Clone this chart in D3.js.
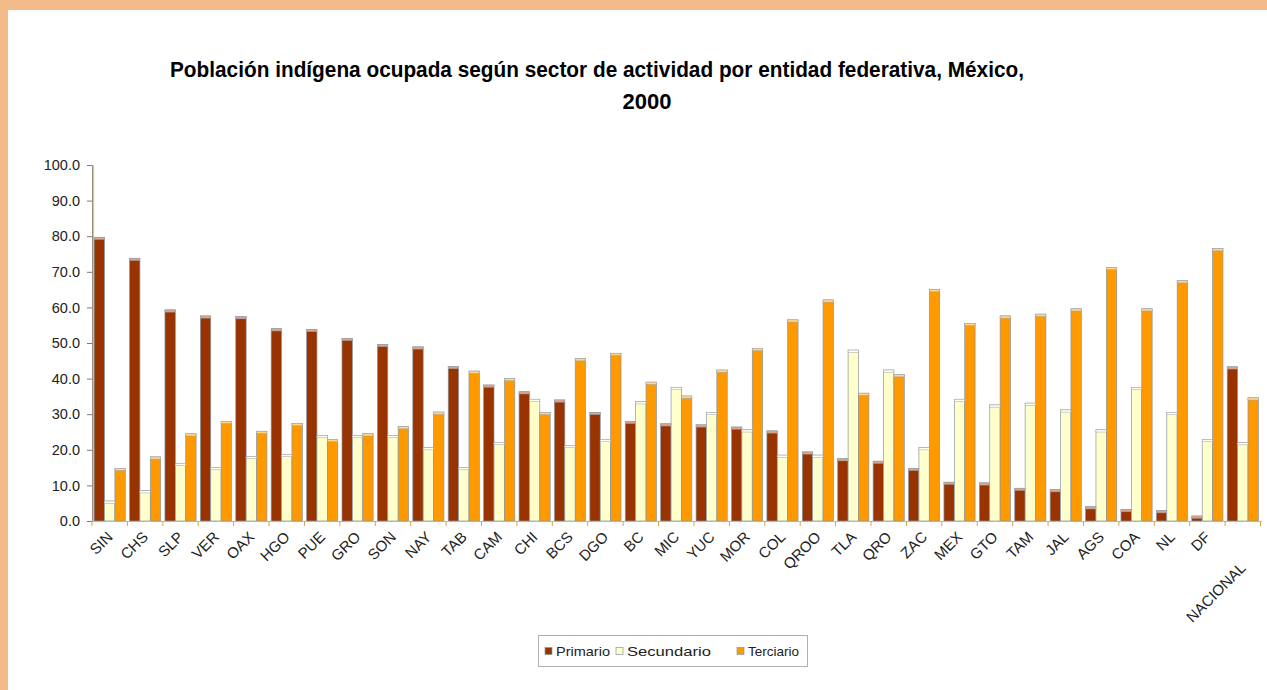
<!DOCTYPE html>
<html>
<head>
<meta charset="utf-8">
<script src="https://cdn.jsdelivr.net/npm/d3@7/dist/d3.min.js"></script>
<style>
  html, body { margin: 0; padding: 0; background: #ffffff; }
  svg { display: block; }
</style>
</head>
<body>
<script>
// Entidades federativas (orden de la gráfica)
const categories = ["SIN","CHS","SLP","VER","OAX","HGO","PUE","GRO","SON","NAY","TAB","CAM","CHI","BCS","DGO","BC","MIC","YUC","MOR","COL","QROO","TLA","QRO","ZAC","MEX","GTO","TAM","JAL","AGS","COA","NL","DF","NACIONAL"];

// Porcentaje de la población indígena ocupada por sector
const primario   = [79.7,73.8,59.3,57.6,57.4,54.0,53.8,51.3,49.6,48.9,43.4,38.2,36.3,34.0,30.5,28.0,27.3,27.0,26.4,25.3,19.4,17.5,16.8,14.8,10.9,10.7,9.2,8.8,4.0,3.2,2.9,1.4,43.3];
const secundario = [5.6,8.5,16.2,15.0,18.1,18.7,24.0,24.0,24.0,20.6,15.0,22.1,34.2,21.2,22.9,33.5,37.5,30.5,25.6,18.5,18.5,48.0,42.4,20.6,34.2,32.6,33.1,31.2,25.6,37.5,30.5,22.9,22.0];
const terciario  = [14.8,18.0,24.5,28.0,25.2,27.4,22.9,24.5,26.5,30.6,42.1,40.0,30.5,45.6,47.1,39.0,35.1,42.4,48.5,56.5,62.1,35.9,41.1,65.0,55.5,57.6,58.1,59.6,71.2,59.6,67.5,76.5,34.6];

const seriesNames = ["Primario","Secundario","Terciario"];
const yTicks = [0,10,20,30,40,50,60,70,80,90,100];

const titleLine1 = "Población indígena ocupada según sector de actividad por entidad federativa, México,";
const titleLine2 = "2000";

const W = 1267, H = 690;
const fills = { Primario: "#993300", Secundario: "#ffffcc", Terciario: "#ff9900" };
const caps  = { Primario: "#d9a48e", Secundario: "#fffff2", Terciario: "#ffd88c" };

const table = categories.map((c, i) => ({
  cat: c,
  values: [
    { key: "Primario",   v: primario[i] },
    { key: "Secundario", v: secundario[i] },
    { key: "Terciario",  v: terciario[i] }
  ]
}));

const svg = d3.select("body").append("svg")
  .attr("width", W).attr("height", H);

// Marco exterior
svg.append("rect").attr("x", 0).attr("y", 0).attr("width", W).attr("height", H).attr("fill", "#ffffff");
svg.append("rect").attr("x", 0).attr("y", 0).attr("width", W).attr("height", 10).attr("fill", "#f4bb8a");
svg.append("rect").attr("x", 0).attr("y", 0).attr("width", 8).attr("height", H).attr("fill", "#f4bb8a");

// Título (tipografía condensada)
const titleFont = "Liberation Sans, Arial, sans-serif";
svg.append("text")
  .attr("x", 597).attr("y", 77)
  .attr("text-anchor", "middle")
  .attr("font-family", titleFont)
  .attr("font-weight", "bold")
  .attr("font-size", 22.5)
  .attr("textLength", 854)
  .attr("lengthAdjust", "spacingAndGlyphs")
  .attr("fill", "#000")
  .text(titleLine1);
svg.append("text")
  .attr("x", 647).attr("y", 109)
  .attr("text-anchor", "middle")
  .attr("font-family", titleFont)
  .attr("font-weight", "bold")
  .attr("font-size", 22.5)
  .attr("textLength", 49)
  .attr("lengthAdjust", "spacingAndGlyphs")
  .attr("fill", "#000")
  .text(titleLine2);

// Escalas
const plotLeft = 92, plotRight = 1260.5, plotTop = 165, plotBottom = 521;
const x0 = d3.scaleBand().domain(categories).range([plotLeft, plotRight]).padding(0);
const bw = x0.bandwidth();
const x1 = d3.scaleBand().domain(seriesNames).range([bw * 0.06, bw * 0.94]).padding(0);
const y = d3.scaleLinear().domain([0, 100]).range([plotBottom, plotTop]);

// Eje Y
const yAxis = d3.axisLeft(y).tickValues(yTicks).tickSize(5).tickPadding(7).tickFormat(d3.format(".1f"));
const gy = svg.append("g").attr("transform", `translate(${plotLeft},0)`).call(yAxis);
gy.select(".domain").attr("stroke", "#8c8c8c").attr("stroke-width", 1);
gy.selectAll(".tick line").attr("stroke", "#7a7a7a");
gy.selectAll(".tick text")
  .attr("font-family", "Liberation Sans, Arial, sans-serif")
  .attr("font-size", 14.5)
  .attr("fill", "#222");

// Cara lateral del plano de fondo
svg.append("line")
  .attr("x1", plotLeft + 1.5).attr("x2", plotLeft + 1.5)
  .attr("y1", y(100)).attr("y2", y(0))
  .attr("stroke", "#f5c842").attr("stroke-width", 1.2);

// Columnas
const groups = svg.append("g").selectAll("g.grp")
  .data(table).join("g")
  .attr("class", "grp")
  .attr("transform", d => `translate(${x0(d.cat)},0)`);

groups.selectAll("rect.bar")
  .data(d => d.values).join("rect")
  .attr("class", "bar")
  .attr("x", d => x1(d.key))
  .attr("y", d => y(d.v))
  .attr("width", x1.bandwidth())
  .attr("height", d => y(0) - y(d.v))
  .attr("fill", d => fills[d.key])
  .attr("stroke", "#8a96a2")
  .attr("stroke-width", 0.7);

// Tapa superior clara de cada columna
groups.selectAll("rect.cap")
  .data(d => d.values).join("rect")
  .attr("class", "cap")
  .attr("x", d => x1(d.key))
  .attr("y", d => y(d.v))
  .attr("width", x1.bandwidth())
  .attr("height", d => Math.min(2.2, y(0) - y(d.v)))
  .attr("fill", d => caps[d.key])
  .attr("stroke", "#9aa3ad")
  .attr("stroke-width", 0.5);

// Eje X
svg.append("line")
  .attr("x1", plotLeft).attr("x2", plotRight + 1)
  .attr("y1", plotBottom + 0.5).attr("y2", plotBottom + 0.5)
  .attr("stroke", "#9fbcd8").attr("stroke-width", 1.2);

const boundaries = categories.map(c => x0(c)).concat([x0(categories[categories.length - 1]) + bw]);
svg.append("g").selectAll("line")
  .data(boundaries).join("line")
  .attr("x1", d => d).attr("x2", d => d)
  .attr("y1", plotBottom).attr("y2", plotBottom + 5)
  .attr("stroke", "#e0a040").attr("stroke-width", 1);

// Etiquetas de categoría, giradas 45°
const labelDrop = c => c === "NACIONAL" ? 31 : 0;
svg.append("g").selectAll("text")
  .data(categories).join("text")
  .attr("transform", c => `translate(${x0(c) + bw / 2 - 4},${plotBottom + 9 + labelDrop(c)}) rotate(-45)`)
  .attr("text-anchor", "end")
  .attr("dominant-baseline", "hanging")
  .attr("font-family", "Liberation Sans, Arial, sans-serif")
  .attr("font-size", 15)
  .attr("fill", "#222")
  .text(c => c);

// Leyenda
const legend = svg.append("g");
legend.append("rect")
  .attr("x", 538.5).attr("y", 635.5).attr("width", 269).attr("height", 31)
  .attr("fill", "#fff").attr("stroke", "#b0b0b0").attr("stroke-width", 1);
const legendItems = [
  { key: "Primario",   mx: 545, tx: 556, tw: 54 },
  { key: "Secundario", mx: 616, tx: 627, tw: 84 },
  { key: "Terciario",  mx: 737, tx: 748, tw: 51 }
];
legendItems.forEach(it => {
  legend.append("rect")
    .attr("x", it.mx).attr("y", 647.5).attr("width", 7).attr("height", 7)
    .attr("fill", fills[it.key]).attr("stroke", "#8a96a2").attr("stroke-width", 0.7);
  legend.append("text")
    .attr("x", it.tx).attr("y", 656)
    .attr("font-family", "Liberation Sans, Arial, sans-serif")
    .attr("font-size", 13.5)
    .attr("textLength", it.tw)
    .attr("lengthAdjust", "spacingAndGlyphs")
    .attr("fill", "#222")
    .text(it.key);
});
</script>
</body>
</html>
